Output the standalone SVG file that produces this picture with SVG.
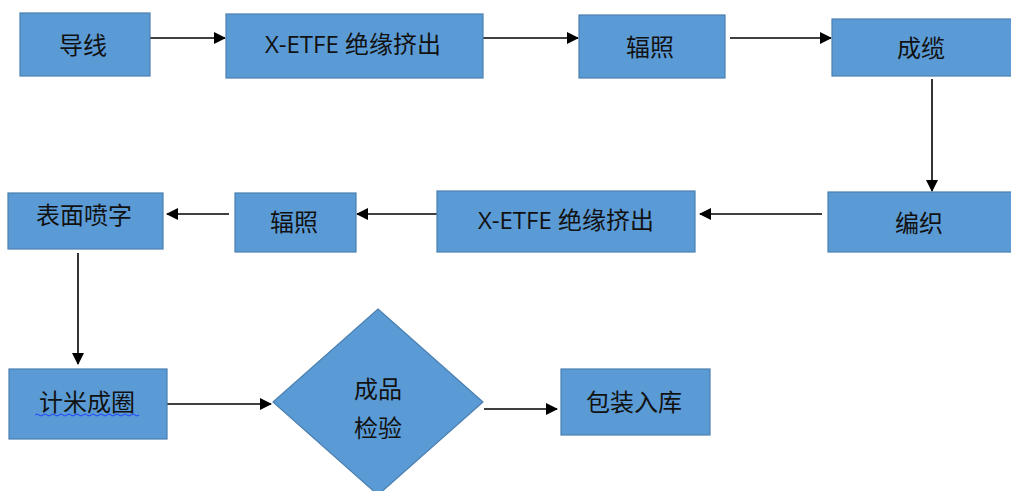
<svg xmlns="http://www.w3.org/2000/svg" width="1011" height="491" viewBox="0 0 1011 491">
<style>
.n{fill:#5B9BD5;stroke:#4A7FB0;stroke-width:1.2}
.t{font-family:"Open Sans","Noto Sans CJK SC",sans-serif;font-size:24px;fill:#111;text-anchor:middle;dominant-baseline:central}
.c{stroke:#000;stroke-width:1.6;fill:none;marker-end:url(#ah)}
</style>
<defs>
<marker id="ah" markerWidth="12" markerHeight="12" refX="11" refY="6" orient="auto" markerUnits="userSpaceOnUse">
<path d="M0,0 L12,6 L0,12 Z" fill="#000"/>
</marker>
</defs>
<rect width="1011" height="491" fill="#fff"/>
<g id="connectors">
<line class="c" x1="150" y1="38" x2="225" y2="38"/>
<line class="c" x1="483" y1="38" x2="578" y2="38"/>
<line class="c" x1="730" y1="38" x2="831" y2="38"/>
<line class="c" x1="932" y1="79" x2="932" y2="191"/>
<line class="c" x1="822" y1="214" x2="700" y2="214"/>
<line class="c" x1="437" y1="214" x2="357" y2="214"/>
<line class="c" x1="229" y1="214" x2="167" y2="214"/>
<line class="c" x1="78" y1="253" x2="78" y2="364"/>
<line class="c" x1="163" y1="404" x2="271" y2="404"/>
<line class="c" x1="484" y1="409" x2="557" y2="409"/>
</g>
<g id="n1"><rect class="n" x="20" y="13" width="130" height="63"/><text class="t" x="83" y="44">导线</text></g>
<g id="n2"><rect class="n" x="226" y="14" width="257" height="64"/><text class="t" x="353" y="43">X-ETFE 绝缘挤出</text></g>
<g id="n3"><rect class="n" x="579" y="15" width="146" height="63"/><text class="t" x="650" y="46">辐照</text></g>
<g id="n4"><rect class="n" x="832" y="19" width="185" height="57"/><text class="t" x="921" y="47">成缆</text></g>
<g id="n5"><rect class="n" x="828" y="192" width="189" height="60"/><text class="t" x="919" y="222">编织</text></g>
<g id="n6"><rect class="n" x="437" y="191" width="258" height="61"/><text class="t" x="566" y="219">X-ETFE 绝缘挤出</text></g>
<g id="n7"><rect class="n" x="235" y="193" width="121" height="59"/><text class="t" x="294" y="221">辐照</text></g>
<g id="n8"><rect class="n" x="8" y="193" width="155" height="56"/><text class="t" x="84" y="214">表面喷字</text></g>
<g id="n9"><rect class="n" x="9" y="369" width="158" height="70"/><text class="t" x="87" y="401">计米成圈</text>
<path d="M35,415 q2,-2 4,0 t4,0 t4,0 t4,0 t4,0 t4,0 t4,0 t4,0 t4,0 t4,0 t4,0 t4,0 t4,0 t4,0 t4,0 t4,0 t4,0 t4,0 t4,0 t4,0 t4,0 t4,0 t4,0 t4,0 t4,0 t4,0" fill="none" stroke="#1f3fff" stroke-width="1"/></g>
<g id="n10"><polygon class="n" points="378,309 483,402 378,495 273,402"/><text class="t" x="378" y="388">成品</text><text class="t" x="378" y="427">检验</text></g>
<g id="n11"><rect class="n" x="561" y="369" width="149" height="66"/><text class="t" x="634" y="401">包装入库</text></g>
</svg>
